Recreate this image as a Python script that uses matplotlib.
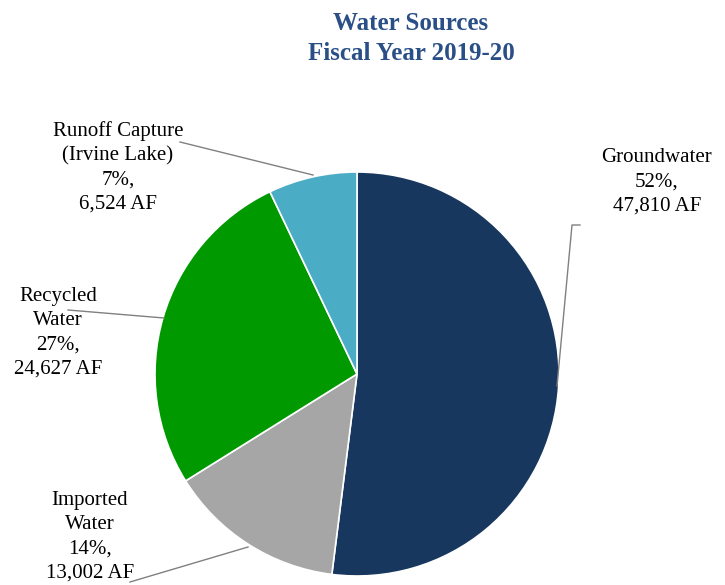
import matplotlib
matplotlib.use("Agg")
import matplotlib.pyplot as plt

# data
sources = ["Groundwater", "Imported\nWater", "Recycled\nWater", "Runoff Capture\n(Irvine Lake)"]
acre_feet = [47810, 13002, 24627, 6524]
colors = ["#17375E", "#A6A6A6", "#009900", "#4BACC6"]

plt.rcParams["font.family"] = ["Liberation Serif", "DejaVu Serif"]

W, H = 725, 585
fig = plt.figure(figsize=(W / 100, H / 100), dpi=100)
ax = fig.add_axes([0, 0, 1, 1])
ax.set_xlim(0, W)
ax.set_ylim(0, H)
ax.set_aspect("equal")
ax.axis("off")

def py(y):
    # pixel row (from top) -> data y
    return H - y

ax.pie(acre_feet, colors=colors, startangle=90, counterclock=False,
       center=(357, py(374)), radius=202,
       wedgeprops=dict(edgecolor="white", linewidth=1.2))
ax.set_xlim(0, W)
ax.set_ylim(0, H)

total = sum(acre_feet)
# label centre (x, top row) and leader line points, in pixels
label_pos = [(657, 148), (90, 491), (58, 287), (118, 121)]
leaders = [
    [(580, 225), (572, 225), (557, 386)],
    [(130, 582), (248, 547)],
    [(68, 310), (164, 318)],
    [(180, 142), (313, 175)],
]

for name, v, (lx, ly), pts in zip(sources, acre_feet, label_pos, leaders):
    pct = round(100 * v / total)
    txt = f"{name}\n{pct}%,\n{v:,} AF"
    ax.text(lx, py(ly), txt, ha="center", va="top", fontsize=15,
            linespacing=1.37, color="black")
    xs = [p[0] for p in pts]
    ys = [py(p[1]) for p in pts]
    ax.plot(xs, ys, color="#808080", linewidth=1.0)

ax.text(411, py(12), "Water Sources\nFiscal Year 2019-20", ha="center", va="top",
        fontsize=18, fontweight="bold", color="#2A4F86", linespacing=1.4)

fig.savefig("out.png", dpi=100)
